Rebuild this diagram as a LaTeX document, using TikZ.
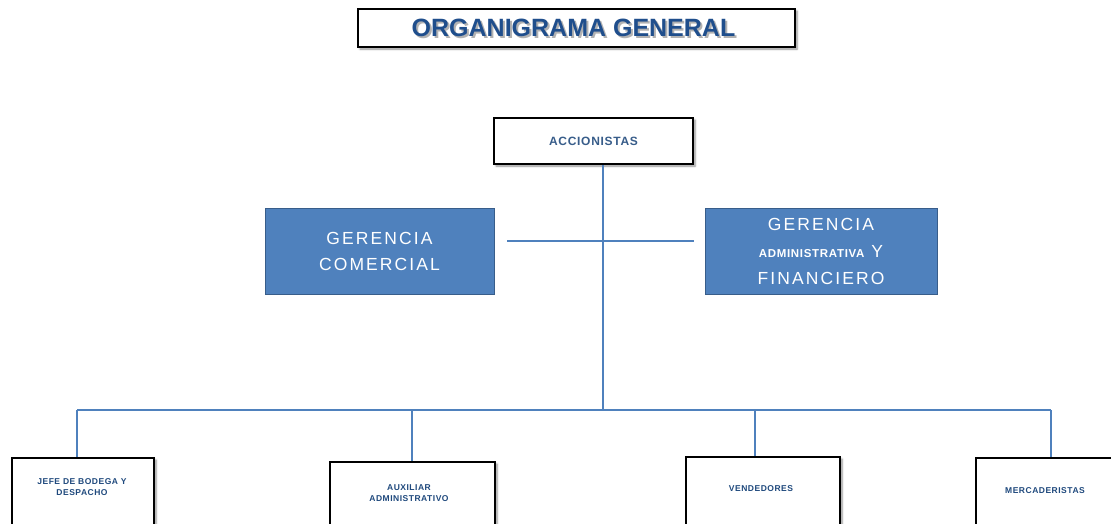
\documentclass[tikz,border=0pt]{standalone}
\usepackage{fontspec}
\setmainfont{Liberation Sans}
\usetikzlibrary{shadows.blur}
\definecolor{accent}{HTML}{4F81BD}
\definecolor{accentdark}{HTML}{385D8A}
\definecolor{navy}{HTML}{1F497D}
\definecolor{titleblue}{HTML}{1F4E8C}
\newfontfamily\spaced[LetterSpace=12]{Liberation Sans}
\newfontfamily\spacedb[LetterSpace=6]{Liberation Sans}
\tikzset{
  framebox/.style={draw=black, line width=2pt, fill=white, inner sep=0pt,
    blur shadow={shadow xshift=2pt, shadow yshift=-2pt, shadow blur steps=6, shadow opacity=45}},
  bluebox/.style={draw=accentdark, line width=1pt, fill=accent, inner sep=0pt, text=white, align=center},
  link/.style={draw=accent, line width=2pt},
  tiny/.style={text=navy, font=\spacedb\fontsize{8.5}{11}\selectfont\bfseries, align=center, inner sep=0pt},
}
\begin{document}
\begin{tikzpicture}[x=1pt,y=-1pt]
\useasboundingbox (0,0) rectangle (1111,523);
\clip (0,0) rectangle (1111,523);
% title
\node[framebox, minimum width=437pt, minimum height=38pt] (title) at (576.5,28) {};
\node[text=gray!60, font=\fontsize{25}{28}\selectfont\bfseries, inner sep=0pt] (titleshadow) at (575.5,30) {ORGANIGRAMA GENERAL};
\node[text=titleblue, font=\fontsize{25}{28}\selectfont\bfseries, inner sep=0pt] (titletext) at (573.5,28) {ORGANIGRAMA GENERAL};
% top
\node[framebox, minimum width=199pt, minimum height=46pt, text=accentdark,
  font=\spacedb\fontsize{12}{14}\selectfont\bfseries] (acc) at (593.5,141) {ACCIONISTAS};
% managers
\node[bluebox, minimum width=229pt, minimum height=86pt,
  font=\spaced\fontsize{17.5}{26}\selectfont] (gc) at (379.5,251) {GERENCIA\\COMERCIAL};
\node[bluebox, minimum width=232pt, minimum height=86pt,
  font=\spaced\fontsize{17.5}{27}\selectfont] (ga) at (821,251)
  {GERENCIA\\{\spacedb\fontsize{11.5}{27}\selectfont\bfseries ADMINISTRATIVA} Y\\FINANCIERO};
% bottom boxes
\node[framebox, minimum width=142pt, minimum height=90pt] (b1) at (83,503) {};
\node[framebox, minimum width=165pt, minimum height=90pt] (b2) at (412.5,507) {};
\node[framebox, minimum width=154pt, minimum height=90pt] (b3) at (763,502) {};
\node[framebox, minimum width=150pt, minimum height=90pt] (b4) at (1051,503) {};
\node[tiny] (t1) at (82,487.5) {JEFE DE BODEGA Y\\DESPACHO};
\node[tiny] (t2) at (409,493.5) {AUXILIAR\\ADMINISTRATIVO};
\node[tiny] (t3) at (761,489) {VENDEDORES};
\node[tiny] (t4) at (1045,491) {MERCADERISTAS};
% connectors
\coordinate (trunk) at (603,410);
\coordinate (hl) at (507,241);
\coordinate (hr) at (694,241);
\coordinate (bl) at (77,410);
\coordinate (br) at (1051,410);
\coordinate (d2) at (412,410);
\coordinate (d3) at (755,410);
\draw[link] (trunk |- acc.south) -- (trunk);
\draw[link] (hl) -- (hr);
\draw[link] (bl) -- (br);
\draw[link] (bl) -- (bl |- b1.north);
\draw[link] (d2) -- (d2 |- b2.north);
\draw[link] (d3) -- (d3 |- b3.north);
\draw[link] (br) -- (br |- b4.north);
\end{tikzpicture}
\end{document}
